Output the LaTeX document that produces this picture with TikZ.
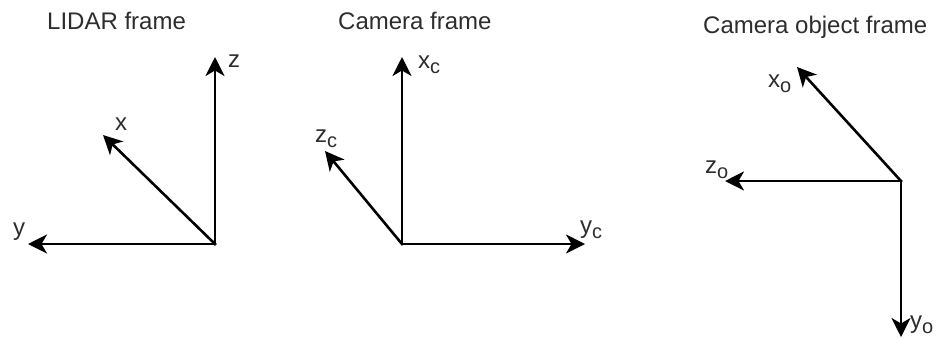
\documentclass[tikz,border=0pt]{standalone}
\usepackage{fontspec}
\setmainfont{Liberation Sans}
\definecolor{labelgray}{RGB}{45,45,45}
\usetikzlibrary{arrows.meta,positioning}
\newcommand{\axsub}[2]{#1\raisebox{-5pt}{\fontsize{20}{20}\selectfont #2}}

\begin{document}
\begin{tikzpicture}[x=1pt,y=-1pt,
  axis/.style={line width=2.6pt, line cap=rect, -{Stealth[length=19pt,width=19pt,inset=5.5pt]}},
  lbl/.style={inner sep=0pt, anchor=base west, text=labelgray, font=\fontsize{24}{28}\selectfont}]
  \useasboundingbox (0,0) rectangle (942,338);

  % LIDAR frame
  \node[lbl] (lidartitle) at (47,29) {LIDAR frame};
  \coordinate (lo) at (215,244);
  \coordinate (lx) at (103,135);
  \coordinate (ly) at (28,244);
  \coordinate (lz) at (215,57);
  \draw[axis] (lo) -- (lz);
  \draw[axis] (lo) -- (lx);
  \draw[axis] (lo) -- (ly);
  \node[lbl] (lzlabel) at (228,67) {z};
  \node[lbl] (lxlabel) at (115,130) {x};
  \node[lbl] (lylabel) at (13,235) {y};

  % Camera frame
  \node[lbl] (camtitle) at (338,29) {Camera frame};
  \coordinate (co) at (402,244);
  \coordinate (cx) at (402,57);
  \coordinate (cy) at (585,244);
  \coordinate (cz) at (325,151);
  \draw[axis] (co) -- (cx);
  \draw[axis] (co) -- (cy);
  \draw[axis] (co) -- (cz);
  \node[lbl] (cxlabel) at (418,68) {\axsub{x}{c}};
  \node[lbl] (czlabel) at (315,142) {\axsub{z}{c}};
  \node[lbl] (cylabel) at (580,233) {\axsub{y}{c}};

  % Camera object frame
  \node[lbl] (objtitle) at (703,33) {Camera object frame};
  \coordinate (oo) at (901,181);
  \coordinate (ox) at (797,67);
  \coordinate (oy) at (901,337);
  \coordinate (oz) at (725,181);
  \draw[axis] (oo) -- (ox);
  \draw[axis] (oo) -- (oz);
  \draw[axis] (oo) -- (oy);
  \node[lbl] (oxlabel) at (768,87) {\axsub{x}{o}};
  \node[lbl] (ozlabel) at (705,173) {\axsub{z}{o}};
  \node[lbl] (oylabel) at (910,328) {\axsub{y}{o}};
\end{tikzpicture}
\end{document}
